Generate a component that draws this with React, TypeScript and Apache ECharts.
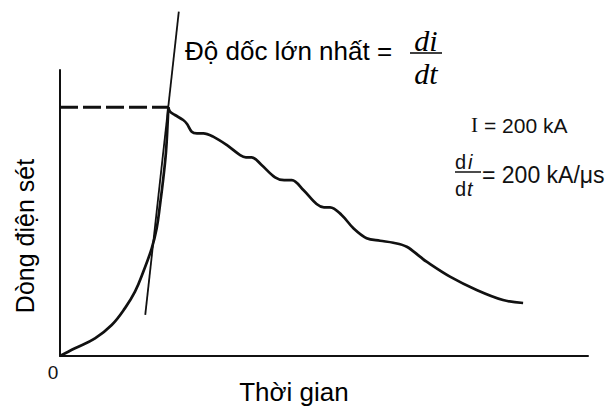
import React, { useEffect, useRef } from "react";
import * as echarts from "echarts";

// Rising front of the lightning current (time in µs, current in kA)
const riseTime = [0, 0.545, 1.273, 1.88, 2.364, 2.727, 3.029, 3.335, 3.516, 3.636, 3.756, 3.855, 3.916, 3.94];
const riseCurrent = [0, 6.2, 14.2, 24.9, 38.5, 51.7, 67.8, 86.6, 102.7, 121.4, 142.9, 164.3, 188.4, 200];

// Tail of the current with its small ripples
const fallTime = [3.94, 4.0, 4.18, 4.48, 4.62, 4.79, 4.98, 5.21, 5.57, 6.06, 6.55, 6.76, 6.97, 7.33, 7.82, 8.15, 8.43, 8.85, 9.33, 9.6, 9.82, 10.24, 10.67, 11.15, 11.64, 12.12, 12.61, 13.09, 13.33, 14.18, 15.15, 16.11, 16.84];
const fallCurrent = [200, 196.5, 193.8, 189.8, 186.6, 180.4, 179.1, 179.1, 176.4, 169.7, 161.6, 159.8, 159.8, 153.6, 143.7, 141.5, 141.5, 133.5, 122.2, 119.6, 119.6, 113.4, 102.7, 94.7, 92.7, 91.1, 87.9, 79.9, 75.8, 63.8, 53.1, 45.0, 42.6];

// Peak marker (dashed) and tangent of maximum steepness
const peakTime = 3.94;
const peakCurrent = 200;
const tangentTime = [3.1, 4.32];
const tangentCurrent = [33, 277];

const X_MAX = 19.2;
const Y_MAX = 230;

const SANS = '"Liberation Sans", Arial, sans-serif';
const SERIF = '"Liberation Serif", "Times New Roman", serif';

function pairs(xs: number[], ys: number[]) {
  return xs.map((x, i) => [x, ys[i]]);
}

function txt(x: number, y: number, text: string, size: number, family: string, align: string, extra: any = {}) {
  return {
    type: "text",
    x,
    y,
    ...(extra.el || {}),
    style: {
      text,
      fontSize: size,
      fontFamily: family,
      fontStyle: extra.fontStyle || "normal",
      fill: extra.fill || "#000",
      align,
      verticalAlign: "middle",
      textAlign: align,
      textVerticalAlign: "middle",
    },
  };
}

export default function App() {
  const ref = useRef<HTMLDivElement>(null);
  useEffect(() => {
    document.body.style.margin = "0";
    const chart = echarts.init(ref.current!, null, { renderer: "svg" });
    const ink = "#111";
    const option: any = {
      animation: false,
      backgroundColor: "#fff",
      grid: { left: 60, right: 20, top: 70, bottom: 50 },
      xAxis: {
        type: "value",
        min: 0,
        max: X_MAX,
        axisLine: { show: true, lineStyle: { color: ink, width: 2 } },
        axisTick: { show: false },
        axisLabel: { show: false },
        splitLine: { show: false },
      },
      yAxis: {
        type: "value",
        min: 0,
        max: Y_MAX,
        axisLine: { show: true, lineStyle: { color: ink, width: 2 } },
        axisTick: { show: false },
        axisLabel: { show: false },
        splitLine: { show: false },
      },
      series: [
        {
          type: "line",
          data: [[0, peakCurrent], [peakTime, peakCurrent]],
          symbol: "none",
          lineStyle: { color: ink, width: 3, type: [18, 5] },
        },
        {
          type: "line",
          data: pairs(tangentTime, tangentCurrent),
          symbol: "none",
          clip: false,
          lineStyle: { color: ink, width: 1.8 },
        },
        {
          type: "line",
          data: pairs(riseTime, riseCurrent),
          symbol: "none",
          smooth: 0.4,
          lineStyle: { color: ink, width: 2.7 },
        },
        {
          type: "line",
          data: pairs(fallTime, fallCurrent),
          symbol: "none",
          smooth: 0.35,
          lineStyle: { color: ink, width: 2.7 },
        },
      ],
      graphic: [
        txt(185, 51, "Độ dốc lớn nhất =", 26, SANS, "left"),
        txt(426, 40, "di", 30, SERIF, "center", { fontStyle: "italic" }),
        {
          type: "line",
          shape: { x1: 410, y1: 53, x2: 442, y2: 53 },
          style: { stroke: "#000", lineWidth: 1.5 },
        },
        txt(426, 73, "dt", 30, SERIF, "center", { fontStyle: "italic" }),
        txt(471, 125, "I", 21, SERIF, "left", { fill: "#111" }),
        txt(484, 125, "= 200 kA", 21, SANS, "left", { fill: "#111" }),
        txt(455, 162, "d", 20, SANS, "left", { fill: "#111" }),
        txt(468, 162, "i", 20, SANS, "left", { fill: "#111", fontStyle: "italic" }),
        {
          type: "line",
          shape: { x1: 455, y1: 172, x2: 481, y2: 172 },
          style: { stroke: "#111", lineWidth: 1.5 },
        },
        txt(455, 189, "d", 20, SANS, "left", { fill: "#111" }),
        txt(467, 189, "t", 20, SANS, "left", { fill: "#111", fontStyle: "italic" }),
        txt(482, 175, "= 200 kA/μs", 23, SANS, "left", { fill: "#111" }),
        txt(25, 236, "Dòng điện sét", 25, SANS, "center", { el: { rotation: Math.PI / 2 } }),
        txt(294, 392, "Thời gian", 26, SANS, "center"),
        txt(53, 372, "0", 19, SANS, "center", { fill: "#111" }),
      ],
    };
    chart.setOption(option);
    return () => chart.dispose();
  }, []);
  return <div ref={ref} style={{ width: 608, height: 406 }} />;
}
